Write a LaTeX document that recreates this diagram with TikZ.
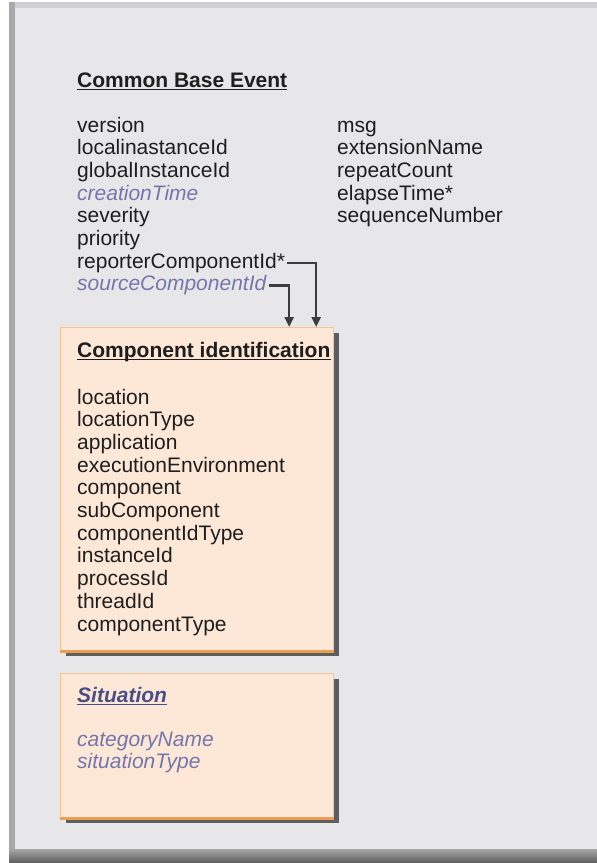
\documentclass[tikz,border=0pt]{standalone}
\usepackage{fontspec}
\setmainfont{Liberation Sans}
\usetikzlibrary{arrows.meta,shadows}

\definecolor{panelgray}{HTML}{E7E7E9}
\definecolor{topedge}{HTML}{CFCFD1}
\definecolor{leftedge}{HTML}{A9A9AB}
\definecolor{textdark}{HTML}{1E1E1E}
\definecolor{linkblue}{HTML}{7476AC}
\definecolor{sitblue}{HTML}{4B4D85}
\definecolor{boxfill}{HTML}{FDE8D8}
\definecolor{boxedge}{HTML}{F6C494}
\definecolor{boxbottom}{HTML}{E99E52}
\definecolor{conncol}{HTML}{3C3C3C}

\newcommand{\cbefont}{\fontsize{21}{22.7}\selectfont}

\tikzset{
	item/.style={anchor=base west, inner sep=0pt, font=\cbefont, text=textdark},
	linkitem/.style={item, font=\cbefont\itshape, text=linkblue},
	heading/.style={item, font=\cbefont\bfseries},
	uline/.style={line width=1.4pt, draw=textdark},
	cbox/.style={anchor=north west, draw=boxedge, line width=1.2pt, fill=boxfill,
		minimum width=273pt, inner sep=0pt,
		drop shadow={shadow xshift=5pt, shadow yshift=-5pt, fill=black!72, opacity=0.85}},
	conn/.style={draw=conncol, line width=2.2pt, -{Triangle[length=10pt, width=9pt]}},
}

\begin{document}
\begin{tikzpicture}[x=1pt, y=-1pt]
	%%%%% START %%%%%
	\useasboundingbox (0,0) rectangle (597,863);
	
	% panel
	\fill[white] (0,0) rectangle (597,863);
	\fill[topedge] (9,2) rectangle (597,8);
	\fill[leftedge] (9,2) rectangle (15,862);
	\fill[panelgray] (15,8) rectangle (597,850);
	\shade[top color=black!35, bottom color=black!62] (9,849) rectangle (597,862);
	
	% boxes
	\node[cbox, minimum height=323pt] (compbox) at (60,327) {};
	\node[cbox, minimum height=144pt] (sitbox) at (60,673) {};
	\draw[boxbottom, line width=3pt] (compbox.south west) -- (compbox.south east);
	\draw[boxbottom, line width=3pt] (sitbox.south west) -- (sitbox.south east);
	
	% Common Base Event
	\node[heading] (cbetitle) at (77,87) {Common Base Event};
	\draw[uline] ([yshift=-2.5pt]cbetitle.base west) -- ([yshift=-2.5pt]cbetitle.base east);
	
	\foreach \txt [count=\i from 0] in {version, localinastanceId, globalInstanceId}
		\node[item] (left\i) at (77,{132+22.7*\i}) {\txt};
	\node[linkitem] (left3) at (77,200.1) {creationTime};
	\node[item] (left4) at (77,222.8) {severity};
	\node[item] (left5) at (77,245.5) {priority};
	\node[item] (reporter) at (77,268.2) {reporterComponentId*};
	\node[linkitem] (source) at (77,290.9) {sourceComponentId};
	
	\foreach \txt [count=\i from 0] in {msg, extensionName, repeatCount, elapseTime*, sequenceNumber}
		\node[item] (right\i) at (337,{132+22.7*\i}) {\txt};
	
	% Component identification
	\node[heading] (comptitle) at (77,357) {Component identification};
	\draw[uline] ([yshift=-2.5pt]comptitle.base west) -- ([yshift=-2.5pt]comptitle.base east);
	
	\foreach \txt [count=\i from 0] in {location, locationType, application,
		executionEnvironment, component, subComponent, componentIdType,
		instanceId, processId, threadId, componentType}
		\node[item] (comp\i) at (77,{404+22.7*\i}) {\txt};
	
	% Situation
	\node[heading, font=\cbefont\bfseries\itshape, text=sitblue] (sittitle) at (77,702) {Situation};
	\draw[uline, draw=sitblue] ([yshift=-2.5pt]sittitle.base west) -- ([yshift=-2.5pt]sittitle.base east);
	\node[linkitem] (sit0) at (77,746) {categoryName};
	\node[linkitem] (sit1) at (77,768.7) {situationType};
	
	% connectors
	\draw[conn] ([xshift=2pt]reporter.east) -| ([xshift=-18pt]compbox.north east);
	\draw[conn] ([xshift=2pt]source.east) -| ([xshift=-45pt]compbox.north east);
	%%%%% END %%%%%
\end{tikzpicture}
\end{document}
